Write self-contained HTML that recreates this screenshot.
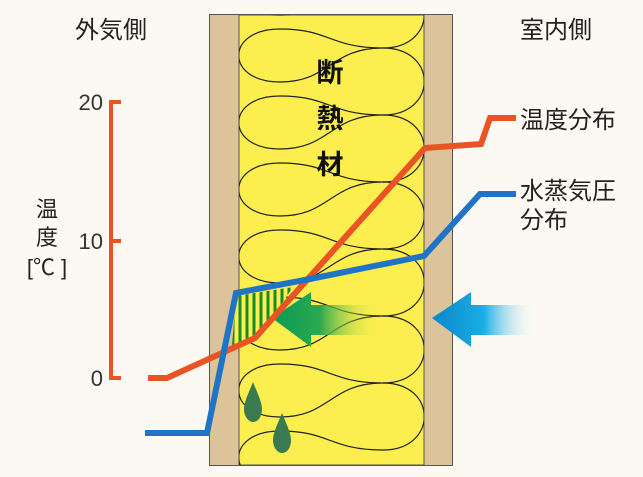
<!DOCTYPE html>
<html><head><meta charset="utf-8"><style>
html,body{margin:0;padding:0;background:#fcf9f3;}
svg{display:block}
text{font-family:"Liberation Sans","Noto Sans CJK JP",sans-serif;fill:#222;}
</style></head><body>
<svg width="643" height="477" viewBox="0 0 643 477" xmlns="http://www.w3.org/2000/svg">
<defs>
<linearGradient id="gg" x1="0" x2="1" y1="0" y2="0">
<stop offset="0" stop-color="#0a9a55"/><stop offset="0.45" stop-color="#2aa84f"/><stop offset="1" stop-color="#f6f04a" stop-opacity="0"/>
</linearGradient>
<linearGradient id="bg" x1="0" x2="1" y1="0" y2="0">
<stop offset="0" stop-color="#0a86c8"/><stop offset="0.5" stop-color="#1aaee6"/><stop offset="1" stop-color="#fcf9f3" stop-opacity="0"/>
</linearGradient>
<clipPath id="cy"><rect x="239" y="15" width="185" height="450"/></clipPath>
<clipPath id="hz"><polygon points="236,296 293,287 272,318 255,338 232,345"/></clipPath>
</defs>
<rect x="209.5" y="14.5" width="243" height="451" fill="#dcc39a" stroke="#555" stroke-width="1"/>
<rect x="239" y="15" width="185" height="450" fill="#fbee4e" stroke="#555" stroke-width="1"/>
<g clip-path="url(#cy)" fill="none" stroke="#222" stroke-width="1.2">
<path d="M383,-19 C438,-19 438,48 383,48 C330,48 330,29 280,29 C225,29 225,82 280,82 C330,82 330,48 383,48"/>
<path d="M383,48 C438,48 438,115 383,115 C330,115 330,96 280,96 C225,96 225,149 280,149 C330,149 330,115 383,115"/>
<path d="M383,115 C438,115 438,182 383,182 C330,182 330,163 280,163 C225,163 225,216 280,216 C330,216 330,182 383,182"/>
<path d="M383,182 C438,182 438,249 383,249 C330,249 330,230 280,230 C225,230 225,283 280,283 C330,283 330,249 383,249"/>
<path d="M383,249 C438,249 438,316 383,316 C330,316 330,297 280,297 C225,297 225,350 280,350 C330,350 330,316 383,316"/>
<path d="M383,316 C438,316 438,383 383,383 C330,383 330,364 280,364 C225,364 225,417 280,417 C330,417 330,383 383,383"/>
<path d="M383,383 C438,383 438,450 383,450 C330,450 330,431 280,431 C225,431 225,484 280,484"/>
<path d="M383,-19 C330,-19 330,-38 280,-38 C225,-38 225,15 280,15 C330,15 330,-19 383,-19"/>
</g>
<text x="330" y="82" font-size="27" text-anchor="middle" font-weight="bold" style="fill:#111">断</text>
<text x="330" y="128" font-size="27" text-anchor="middle" font-weight="bold" style="fill:#111">熱</text>
<text x="330" y="174" font-size="27" text-anchor="middle" font-weight="bold" style="fill:#111">材</text>
<g clip-path="url(#hz)">
<rect x="230" y="280" width="70" height="70" fill="#fbee4e"/>
<g stroke="#1d8a2a" stroke-width="3">
<line x1="240" y1="280" x2="240" y2="350"/><line x1="247" y1="280" x2="247" y2="350"/><line x1="254" y1="280" x2="254" y2="350"/><line x1="261" y1="280" x2="261" y2="350"/><line x1="268" y1="280" x2="268" y2="350"/><line x1="275" y1="280" x2="275" y2="350"/><line x1="282" y1="280" x2="282" y2="350"/><line x1="289" y1="280" x2="289" y2="350"/><line x1="233" y1="280" x2="233" y2="350"/>
</g></g>
<polygon points="272,318 311,292 311,305 378,305 378,335 311,335 311,347" fill="url(#gg)"/>
<polygon points="432,318 471,292 471,305 536,305 536,335 471,335 471,347" fill="url(#bg)"/>
<path d="M253,382 C249,392 244,402 244,409 C244,417 249,422 253,422 C258,422 262,417 262,409 C262,402 257,392 253,382Z" fill="#3a7a50"/>
<path d="M282,413 C278,423 273,433 273,440 C273,448 278,453 282,453 C287,453 291,448 291,440 C291,433 286,423 282,413Z" fill="#3a7a50"/>
<polyline points="148,378 167,378 255,338 298,290 425,148 481,144 490,118 516,118" fill="none" stroke="#ea5424" stroke-width="6"/>
<polyline points="145,433 207,433 236,293 310,279 424,256 480,194 516,194" fill="none" stroke="#1f74c6" stroke-width="6"/>
<path d="M121,102 H111 V378 H121 M111,241 H121" fill="none" stroke="#ea5424" stroke-width="4"/>
<text x="103" y="110" font-size="22" text-anchor="end" style="fill:#333">20</text>
<text x="103" y="249" font-size="22" text-anchor="end" style="fill:#333">10</text>
<text x="103" y="386" font-size="22" text-anchor="end" style="fill:#333">0</text>
<text x="47" y="217" font-size="22" text-anchor="middle">温</text>
<text x="47" y="245" font-size="22" text-anchor="middle">度</text>
<text x="47" y="275" font-size="22" text-anchor="middle">[℃ ]</text>
<text x="75" y="38" font-size="24">外気側</text>
<text x="520" y="38" font-size="24">室内側</text>
<text x="520" y="128" font-size="24">温度分布</text>
<text x="520" y="199" font-size="24">水蒸気圧</text>
<text x="520" y="228" font-size="24">分布</text>
</svg>
</body></html>
